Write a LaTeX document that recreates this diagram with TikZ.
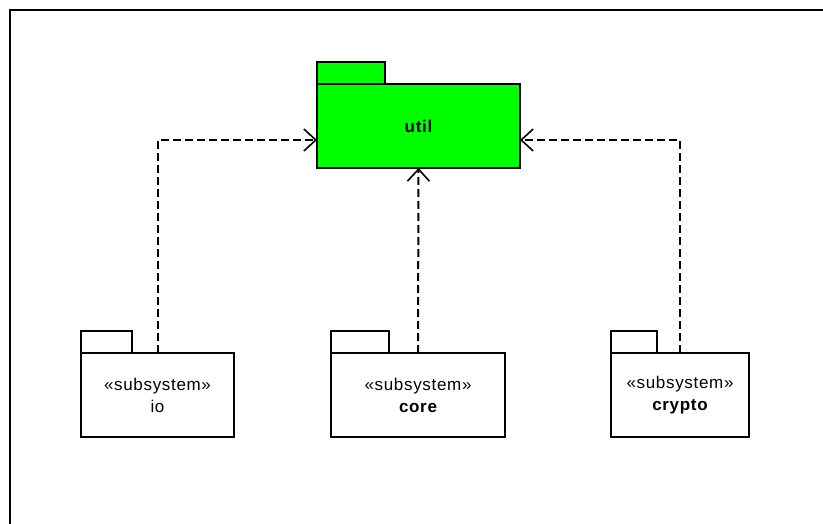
\documentclass[tikz,border=0pt]{standalone}
\usepackage{fontspec}
\setmainfont{Liberation Sans}[LetterSpace=4]
\usetikzlibrary{arrows.meta}
\tikzset{
  pkgbody/.style={draw=black, line width=1.8pt, fill=white, inner sep=0pt, outer sep=0pt,
    align=center, font=\fontsize{17}{22}\selectfont},
  pkgtab/.style={draw=black, line width=1.8pt, fill=white, inner sep=0pt, outer sep=0pt,
    minimum height=22pt, anchor=south west},
  dep/.style={line width=2pt, dash pattern=on 8pt off 4pt,
    -{Straight Barb[length=12pt,width=22pt,line width=1.6pt]}}
}
\begin{document}
\begin{tikzpicture}[x=1pt, y=-1pt]
  \useasboundingbox (0,0) rectangle (823,524);
  % diagram frame
  \draw[line width=2.6pt] (823,10) -- (10,10) -- (10,524);

  % shared package
  \node[pkgbody, fill=green, minimum width=203pt, minimum height=84pt] (util) at (418.5,126) {\bfseries util};
  \node[pkgtab, fill=green, minimum width=68pt] (utiltab) at (util.north west) {};

  % subsystems
  \node[pkgbody, minimum width=153pt, minimum height=84pt] (io) at (157.5,395) {«subsystem»\\io};
  \node[pkgtab, minimum width=51pt] (iotab) at (io.north west) {};

  \node[pkgbody, minimum width=174pt, minimum height=84pt] (core) at (418,395) {«subsystem»\\\bfseries core};
  \node[pkgtab, minimum width=58pt] (coretab) at (core.north west) {};

  \node[pkgbody, minimum width=138pt, minimum height=84pt] (crypto) at (680,395) {«subsystem»\\\bfseries crypto};
  \node[pkgtab, minimum width=46pt] (cryptotab) at (crypto.north west) {};

  % dependencies
  \draw[dep] (io.north) |- ([yshift=-14pt]util.west);
  \draw[dep] (core.north) -- (util.south);
  \draw[dep] (crypto.north) |- ([yshift=-14pt]util.east);
\end{tikzpicture}
\end{document}
